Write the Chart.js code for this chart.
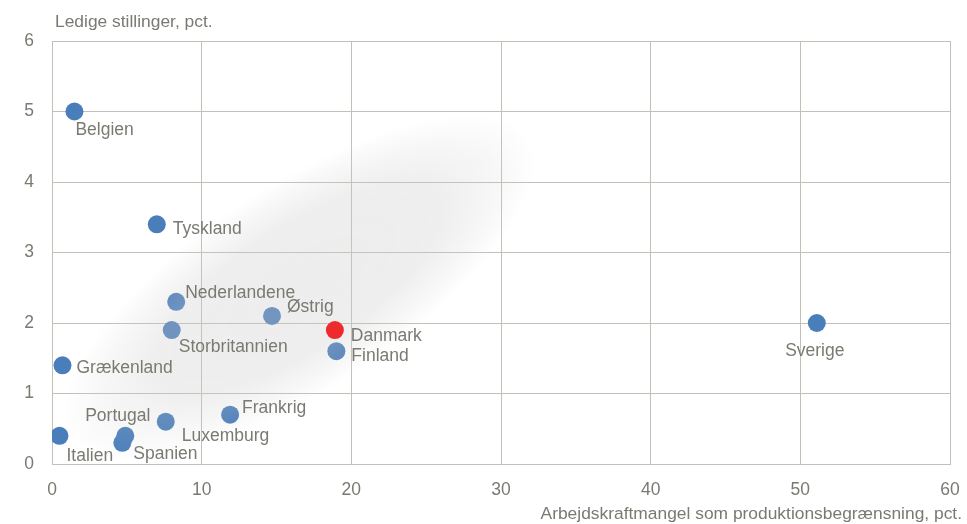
<!DOCTYPE html>
<html>
<head>
<meta charset="utf-8">
<script src="https://cdn.jsdelivr.net/npm/chart.js@4"></script>
<style>
  html, body { margin: 0; padding: 0; background: #fff; }
  #wrap { width: 967px; height: 524px; }
</style>
</head>
<body>
<div id="wrap"><canvas id="scatter"></canvas></div>
<script>
// data
const countries = ['Belgien', 'Tyskland', 'Nederlandene', 'Østrig', 'Storbritannien', 'Danmark', 'Finland',
    'Sverige', 'Grækenland', 'Frankrig', 'Luxemburg', 'Portugal', 'Spanien', 'Italien'];
const shortage = [1.5, 7.0, 8.3, 14.7, 8.0, 18.9, 19.0, 51.1, 0.7, 11.9, 7.6, 4.9, 4.7, 0.5];
const vacancies = [5.0, 3.4, 2.3, 2.1, 1.9, 1.9, 1.6, 2.0, 1.4, 0.7, 0.6, 0.4, 0.3, 0.4];
const highlight = 'Danmark';
const xTicks = [0, 10, 20, 30, 40, 50, 60];
const yTicks = [0, 1, 2, 3, 4, 5, 6];

// label placement relative to the point (px), align
const labelPos = {
    'Belgien': [1, 19, 'left'],
    'Tyskland': [16, 5, 'left'],
    'Nederlandene': [9, -9, 'left'],
    'Østrig': [15, -9, 'left'],
    'Storbritannien': [7, 17, 'left'],
    'Danmark': [16, 6, 'left'],
    'Finland': [15, 5, 'left'],
    'Sverige': [-2, 28, 'center'],
    'Grækenland': [14, 3, 'left'],
    'Frankrig': [12, -6, 'left'],
    'Luxemburg': [16, 14, 'left'],
    'Portugal': [25, -20, 'right'],
    'Spanien': [11, 11, 'left'],
    'Italien': [7, 20, 'left']
};

const textColor = '#7a7a72';
const gridColor = '#c3c1b7';
const blue = '#4a7ebb';
const red = '#ee2a2c';
const fontFamily = '"Liberation Sans", Arial, sans-serif';

// soft grey cloud behind the core group (data coords)
const cloud = { x: 16.5, y: 2.5 };

const idx = countries.map((c, i) => i);
const others = idx.filter(i => countries[i] !== highlight);
const marked = idx.filter(i => countries[i] === highlight);
const toPoint = i => ({ x: shortage[i], y: vacancies[i], name: countries[i] });

const cloudPlugin = {
    id: 'cloud',
    afterDatasetDraw(chart, args) {
        if (args.index !== 1) return;
        const { ctx, scales, chartArea } = chart;
        const cx = scales.x.getPixelForValue(cloud.x);
        const cy = scales.y.getPixelForValue(cloud.y);
        ctx.save();
        ctx.beginPath();
        ctx.rect(chartArea.left, chartArea.top, chartArea.right - chartArea.left, chartArea.bottom - chartArea.top);
        ctx.clip();
        ctx.translate(cx, cy);
        ctx.rotate(-0.58);
        ctx.scale(1, 0.37);
        const g = ctx.createRadialGradient(0, 0, 0, 0, 0, 275);
        g.addColorStop(0, 'rgba(200,200,200,0.32)');
        g.addColorStop(0.6, 'rgba(200,200,200,0.30)');
        g.addColorStop(0.85, 'rgba(200,200,200,0.13)');
        g.addColorStop(1, 'rgba(200,200,200,0)');
        ctx.fillStyle = g;
        ctx.beginPath();
        ctx.arc(0, 0, 275, 0, Math.PI * 2);
        ctx.fill();
        ctx.restore();
    },
    afterDatasetsDraw(chart) {
        // country labels
        const { ctx } = chart;
        ctx.save();
        ctx.font = '17.5px ' + fontFamily;
        ctx.fillStyle = textColor;
        ctx.textBaseline = 'middle';
        chart.data.datasets.forEach((ds, d) => {
            chart.getDatasetMeta(d).data.forEach((el, i) => {
                const name = ds.data[i].name;
                const p = labelPos[name];
                ctx.textAlign = p[2];
                ctx.fillText(name, el.x + p[0], el.y + p[1]);
            });
        });
        ctx.restore();
    }
};

const titlePlugin = {
    id: 'axisTitles',
    afterDraw(chart) {
        const { ctx, chartArea } = chart;
        ctx.save();
        ctx.font = '17.4px ' + fontFamily;
        ctx.fillStyle = textColor;
        ctx.textBaseline = 'middle';
        ctx.textAlign = 'left';
        ctx.fillText('Ledige stillinger, pct.', chartArea.left + 3, 22);
        ctx.textAlign = 'right';
        ctx.fillText('Arbejdskraftmangel som produktionsbegrænsning, pct.', chart.width - 5, 514);
        ctx.restore();
    }
};

const pointStyle = { pointRadius: 9, pointHoverRadius: 9, pointBorderWidth: 0 };

new Chart(document.getElementById('scatter'), {
    type: 'scatter',
    data: {
        datasets: [
            // index 0 is drawn last, on top of the cloud
            { data: marked.map(toPoint), pointBackgroundColor: red, ...pointStyle },
            { data: others.map(toPoint), pointBackgroundColor: blue, ...pointStyle }
        ]
    },
    options: {
        responsive: true,
        maintainAspectRatio: false,
        animation: false,
        layout: { padding: { top: 41, right: 17, left: 0, bottom: 0 } },
        plugins: {
            legend: { display: false },
            tooltip: { enabled: false }
        },
        scales: {
            x: {
                type: 'linear',
                min: 0,
                max: 60,
                afterBuildTicks: axis => { axis.ticks = xTicks.map(v => ({ value: v })); },
                afterFit: axis => { axis.height = 60; axis.paddingRight = 0; },
                grid: { color: gridColor, lineWidth: 1, drawTicks: false },
                border: { color: gridColor },
                ticks: { color: textColor, padding: 16, font: { size: 17.5, family: fontFamily } }
            },
            y: {
                type: 'linear',
                min: 0,
                max: 6,
                afterBuildTicks: axis => { axis.ticks = yTicks.map(v => ({ value: v })); },
                afterFit: axis => { axis.width = 52; },
                grid: { color: gridColor, lineWidth: 1, drawTicks: false },
                border: { color: gridColor },
                ticks: { color: textColor, padding: 18, font: { size: 17.5, family: fontFamily } }
            }
        }
    },
    plugins: [cloudPlugin, titlePlugin]
});
</script>
</body>
</html>
